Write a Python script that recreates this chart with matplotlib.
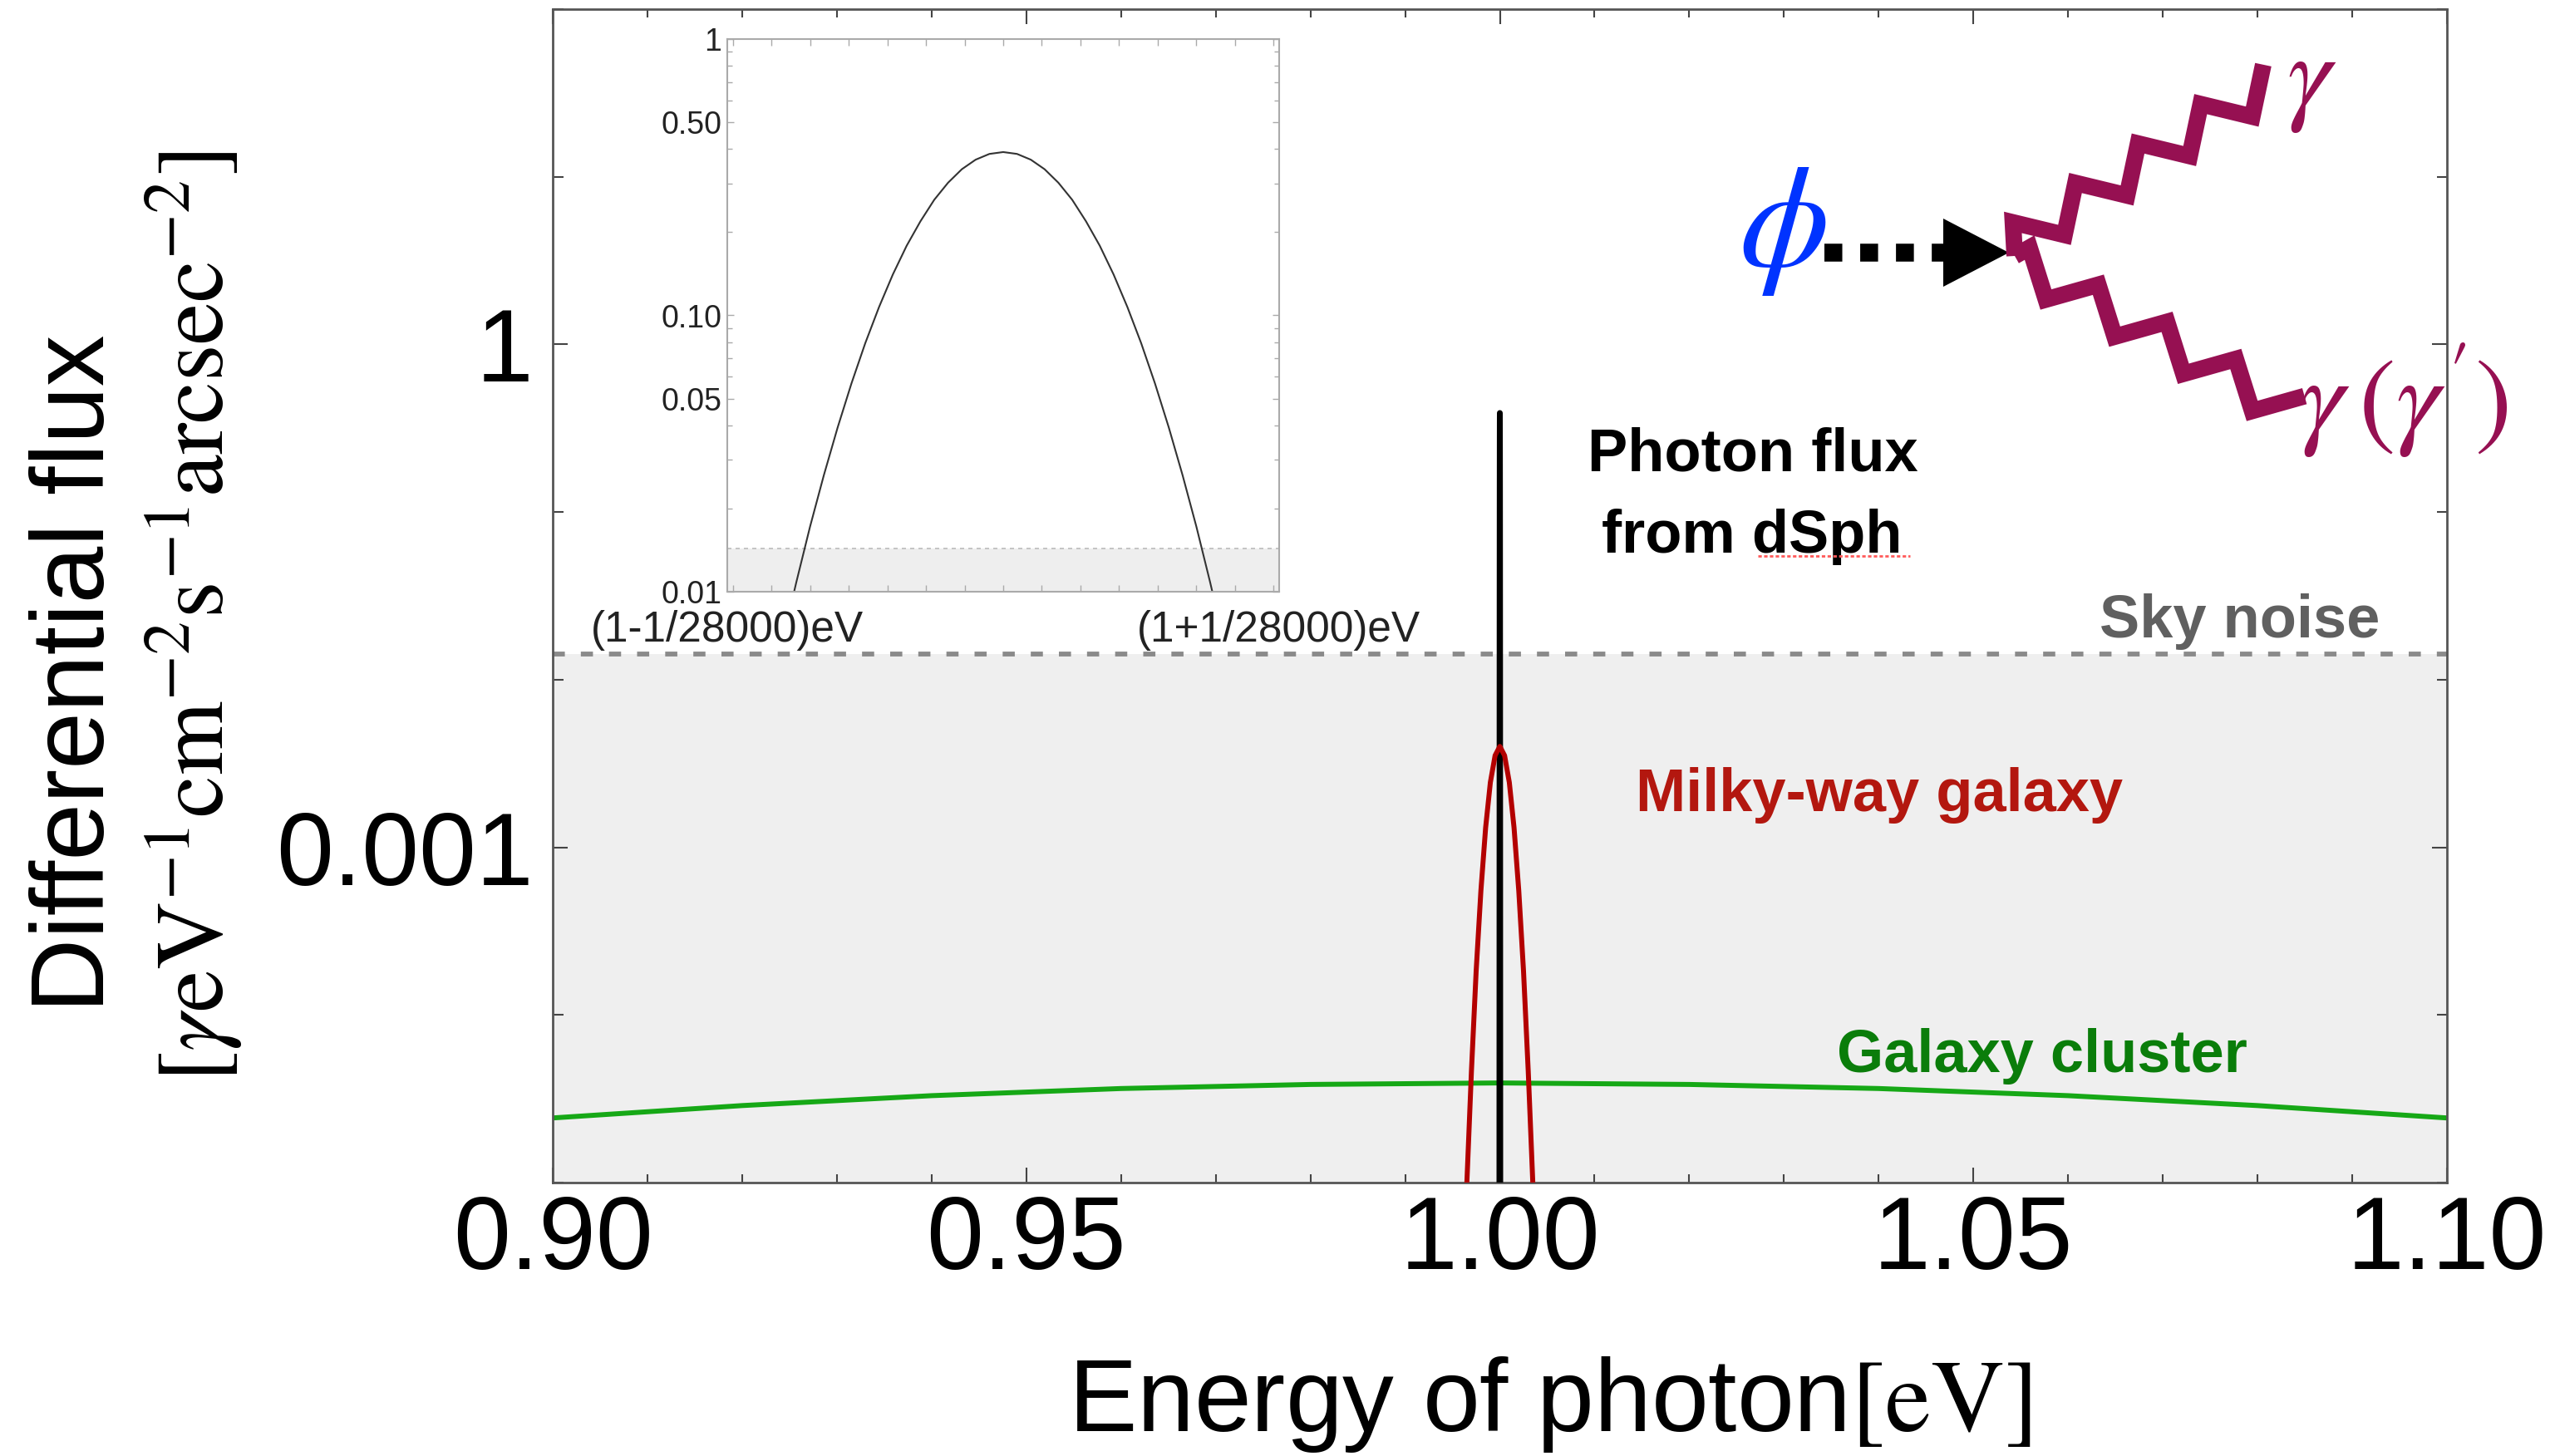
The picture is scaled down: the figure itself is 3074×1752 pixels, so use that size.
import numpy as np
import matplotlib
matplotlib.use('Agg')
import matplotlib.pyplot as plt
from matplotlib.ticker import FixedLocator, FixedFormatter, NullFormatter, MultipleLocator, LogLocator

plt.rcParams['font.family'] = ['Liberation Sans', 'DejaVu Sans']
plt.rcParams['mathtext.fontset'] = 'stix'

# --- values ---
# photon flux from dSph: offset from 1 eV in units of 1/28000 eV
dsph_delta = [-1.3, -1.2, -1.1, -1.0, -0.9, -0.85, -0.8, -0.75, -0.7, -0.65, -0.6, -0.55, -0.5, -0.45,
              -0.4, -0.35, -0.3, -0.25, -0.2, -0.15, -0.1, -0.05, 0.0,
              0.05, 0.1, 0.15, 0.2, 0.25, 0.3, 0.35, 0.4, 0.45, 0.5, 0.55, 0.6, 0.65,
              0.7, 0.75, 0.8, 0.85, 0.9, 1.0, 1.1, 1.2, 1.3]
dsph_flux = [8.2e-6, 4.0e-5, 1.74e-4, 6.6e-4, 2.23e-3, 3.9e-3, 6.6e-3, 0.0108, 0.0172, 0.0264, 0.0393, 0.0567,
             0.0793, 0.1072, 0.1406, 0.1786, 0.219, 0.262, 0.302, 0.338, 0.366, 0.384, 0.39,
             0.384, 0.366, 0.338, 0.302, 0.262, 0.219, 0.1786, 0.1406, 0.1072, 0.0793, 0.0567, 0.0393, 0.0264,
             0.0172, 0.0108, 6.6e-3, 3.9e-3, 2.23e-3, 6.6e-4, 1.74e-4, 4.0e-5, 8.2e-6]

# Milky-way galaxy: offset from 1 eV
mw_dx = [-0.004, -0.0035, -0.003, -0.0025, -0.002, -0.0015, -0.001, -0.0005, 0.0,
         0.0005, 0.001, 0.0015, 0.002, 0.0025, 0.003, 0.0035, 0.004]
mw_flux = [1.45e-6, 9.4e-6, 4.6e-5, 1.83e-4, 5.5e-4, 1.31e-3, 2.44e-3, 3.53e-3, 4.0e-3,
           3.53e-3, 2.44e-3, 1.31e-3, 5.5e-4, 1.83e-4, 4.6e-5, 9.4e-6, 1.45e-6]

# Galaxy cluster
gc_energy = [0.90, 0.92, 0.94, 0.96, 0.98, 1.00, 1.02, 1.04, 1.06, 1.08, 1.10]
gc_flux = [2.43e-5, 2.88e-5, 3.30e-5, 3.64e-5, 3.85e-5, 3.93e-5, 3.85e-5, 3.64e-5, 3.30e-5, 2.88e-5, 2.43e-5]

sky_noise = 0.0143

x_ticks = [0.90, 0.95, 1.00, 1.05, 1.10]
x_ticklabels = ['0.90', '0.95', '1.00', '1.05', '1.10']
y_ticks = [1, 0.001]
y_ticklabels = ['1', '0.001']
inset_yticks = [1, 0.5, 0.1, 0.05, 0.01]
inset_yticklabels = ['1', '0.50', '0.10', '0.05', '0.01']

W, H = 3074, 1752
fig = plt.figure(figsize=(W / 100, H / 100), dpi=100, facecolor='white')


def px_box(x0, y0, x1, y1):
    return [x0 / W, 1 - y1 / H, (x1 - x0) / W, (y1 - y0) / H]


# --- main panel ---
ax = fig.add_axes(px_box(665, 11, 2944, 1423))
ax.set_yscale('log')
ax.set_xlim(0.9, 1.1)
ax.set_ylim(1e-5, 1e2)

ax.axhspan(1e-5, sky_noise, color='#efefef', lw=0, zorder=0)
ax.axhline(sky_noise, color='#8a8a8a', lw=4.2, ls=(0, (2.5, 3.3)), zorder=1)

dsph_energy = 1 + np.array(dsph_delta) / 28000
mw_energy = 1 + np.array(mw_dx)
ax.plot(gc_energy, gc_flux, color='#16a816', lw=4.3, zorder=2)
ax.plot(dsph_energy, dsph_flux, color='black', lw=5.0, zorder=3)
ax.plot(mw_energy, mw_flux, color='#b30000', lw=4.3, zorder=4)

ax.xaxis.set_major_locator(FixedLocator(x_ticks))
ax.xaxis.set_major_formatter(FixedFormatter(x_ticklabels))
ax.xaxis.set_minor_locator(MultipleLocator(0.01))
ax.yaxis.set_major_locator(FixedLocator(y_ticks))
ax.yaxis.set_major_formatter(FixedFormatter(y_ticklabels))
ax.yaxis.set_minor_locator(LogLocator(base=10, subs=(1.0,), numticks=20))
ax.yaxis.set_minor_formatter(NullFormatter())
ax.tick_params(which='both', direction='in', top=True, right=True, color='#444444', width=1.5)
ax.tick_params(which='major', length=13, labelsize=89)
ax.tick_params(axis='x', which='major', pad=10)
ax.tick_params(axis='y', which='major', pad=17)
ax.tick_params(axis='x', which='minor', length=7)
ax.tick_params(axis='y', which='minor', length=9)
for s in ax.spines.values():
    s.set_color('#555555')
    s.set_linewidth(2.0)

lab = dict(ha='center', va='baseline', fontsize=52, fontweight='bold')
ax.text(1.0267, 0.176, 'Photon flux', color='black', **lab)
ax.text(1.0266, 0.0573, 'from dSph', color='black', **lab)
ax.text(1.0929, 0.01783, 'Sky noise', color='#606060', ha='right', va='baseline',
        fontsize=52, fontweight='bold')
ax.text(1.0401, 1.65e-3, 'Milky-way galaxy', color='#b3170f', **lab)
ax.text(1.0573, 4.55e-5, 'Galaxy cluster', color='#0a7d0a', **lab)
ax.text(0.91843, 0.01977, '(1-1/28000)eV', ha='center', va='center', fontsize=37, color='#222222')
ax.text(0.97661, 0.01977, '(1+1/28000)eV', ha='center', va='center', fontsize=37, color='#222222')

# --- inset: zoom on dSph line ---
axin = fig.add_axes(px_box(875, 47, 1539, 712))
axin.set_yscale('log')
axin.set_xlim(-1, 1)
axin.set_ylim(0.01, 1)
axin.axhspan(0.01, sky_noise, color='#eeeeee', lw=0, zorder=0)
axin.axhline(sky_noise, color='#bbbbbb', lw=1.2, ls=(0, (3, 3)), zorder=1)
axin.plot(dsph_delta, dsph_flux, color='#333333', lw=1.5, zorder=2)
axin.yaxis.set_major_locator(FixedLocator(inset_yticks))
axin.yaxis.set_major_formatter(FixedFormatter(inset_yticklabels))
axin.yaxis.set_minor_formatter(NullFormatter())
axin.xaxis.set_major_locator(MultipleLocator(0.14))
axin.tick_params(which='both', direction='in', top=True, right=True, color='#aaaaaa',
                 width=1.0, labelbottom=False)
axin.tick_params(which='major', length=6, labelsize=27, labelcolor='#222222', pad=5)
axin.tick_params(which='minor', length=4)
for s in axin.spines.values():
    s.set_color('#aaaaaa')
    s.set_linewidth(1.5)

# --- axis titles ---
fig.text(93 / W, 1 - 810 / H, 'Differential flux', rotation=90, ha='center', va='center', fontsize=89)
fig.text(233 / W, 1 - 742 / H,
         r'$[\gamma\mathrm{eV}^{-1}\mathrm{cm}^{-2}\mathrm{s}^{-1}\mathrm{arcsec}^{-2}]$',
         rotation=90, ha='center', va='center', fontsize=82)
fig.text(1865 / W, 1 - 1722 / H, r'Energy of photon$[\mathrm{eV}]$', ha='center', va='baseline', fontsize=89)

# --- decay diagram (pixel coordinates of the figure) ---
ov = fig.add_axes([0, 0, 1, 1], zorder=10)
ov.set_xlim(0, W)
ov.set_ylim(H, 0)
ov.axis('off')
ov.patch.set_alpha(0)

maroon = '#961052'
junction = (2424, 308)


def zigzag(cx, cy, ux, uy, n, step, amp):
    L = np.hypot(ux, uy)
    ux, uy = ux / L, uy / L
    px, py = -uy, ux
    i = np.arange(n + 1)
    sgn = np.where(i % 2 == 0, -1.0, 1.0)
    xs = cx + i * step * ux + sgn * amp * px
    ys = cy + i * step * uy + sgn * amp * py
    return np.r_[junction[0], xs], np.r_[junction[1], ys]


xs, ys = zigzag(2434, 287, 219, -138, 8, 44.5, 22.9)
ov.plot(xs, ys, color=maroon, lw=14.4, solid_joinstyle='miter', solid_capstyle='butt')
xs, ys = zigzag(2431, 318, 248, 134, 8, 47, 22.8)
ov.plot(xs, ys, color=maroon, lw=14.4, solid_joinstyle='miter', solid_capstyle='butt')

ov.plot([2195, 2338], [303.5, 303.5], color='black', lw=15.5, ls=(0, (1, 1)),
        dash_capstyle='butt')
ov.fill([2338, 2338, 2417], [263, 345, 304], color='black', lw=0)
ov.text(2145, 276, r'$\phi$', color='#0033ff', fontsize=125, ha='center', va='center')
ov.text(2781, 100, r'$\gamma$', color=maroon, fontsize=96, ha='center', va='center')
ov.text(2892, 482, r'$\gamma\,(\gamma^{\prime})$', color=maroon, fontsize=96, ha='center', va='center')

# spell-check squiggle under "dSph"
ov.plot([2115, 2298], [669, 669], color='#ff5a5a', lw=2, ls=(0, (1.5, 1)))

fig.savefig('out.png', dpi=100, facecolor='white')
